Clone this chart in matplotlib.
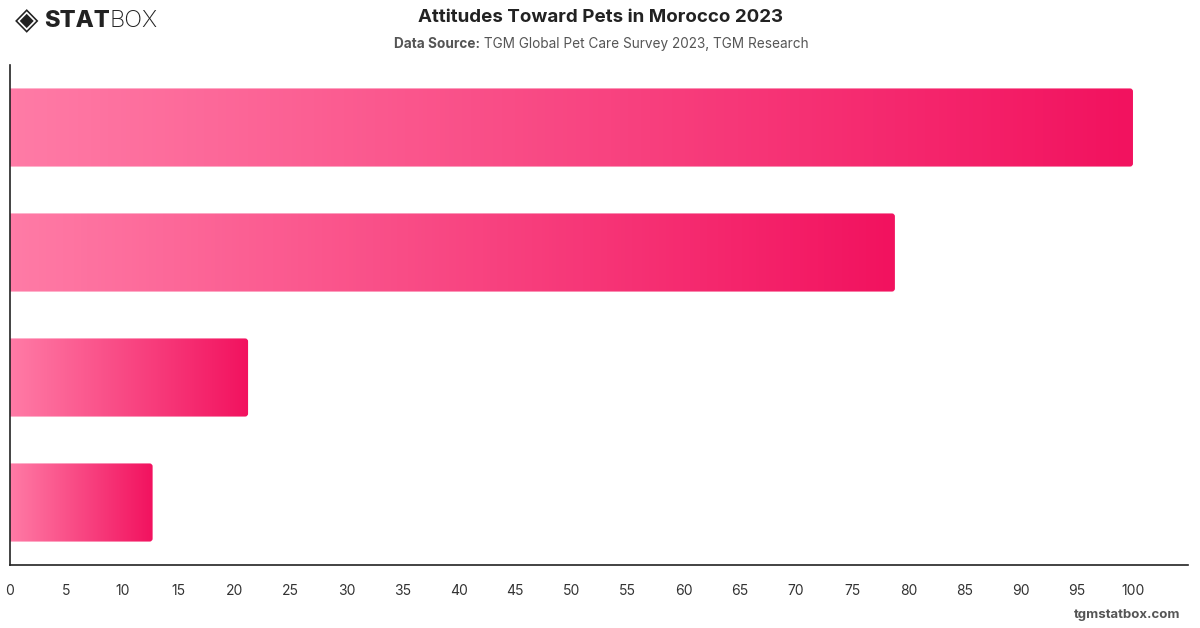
#libraries
import numpy as np
import matplotlib.pyplot as plt
from matplotlib.path import Path
from matplotlib.patches import PathPatch
from matplotlib.colors import LinearSegmentedColormap

#data
categories = ['A', 'B', 'C', 'D']
values = [100.0, 78.8, 21.2, 12.7]
tick_values = list(range(0, 105, 5))

#style
TITLE = 'Attitudes Toward Pets in Morocco 2023'
SOURCE_LABEL = 'Data Source:'
SOURCE_TEXT = ' TGM Global Pet Care Survey 2023, TGM Research'
FOOTER = 'tgmstatbox.com'
COLOR_LEFT = '#ff7ba6'
COLOR_RIGHT = '#f2125f'
BAR_HEIGHT = 0.625
XMAX = 104.9

plt.rcParams['font.family'] = ['Inter', 'DejaVu Sans']

fig = plt.figure(figsize=(12, 6.28), dpi=100)
ax = fig.add_axes([10 / 1200, 1 - 565 / 628, 1178 / 1200, 500 / 628])
ax.set_xlim(0, XMAX)
ax.set_ylim(len(categories) - 0.5, -0.5)

cmap = LinearSegmentedColormap.from_list('pinks', [COLOR_LEFT, COLOR_RIGHT])
grad = np.linspace(0, 1, 256).reshape(1, -1)

#corner radius in data units (about 3 px)
rx = 3 / (1178 / XMAX)
ry = 3 / (500 / len(categories))


def bar_path(x1, y0, y1):
    verts = [(0, y0), (x1 - rx, y0), (x1, y0), (x1, y0 + ry),
             (x1, y1 - ry), (x1, y1), (x1 - rx, y1), (0, y1), (0, y0)]
    codes = [Path.MOVETO, Path.LINETO, Path.CURVE3, Path.CURVE3,
             Path.LINETO, Path.CURVE3, Path.CURVE3, Path.LINETO, Path.CLOSEPOLY]
    return Path(verts, codes)


for i, v in enumerate(values):
    y0 = i - BAR_HEIGHT / 2
    y1 = i + BAR_HEIGHT / 2
    patch = PathPatch(bar_path(v, y0, y1), facecolor='none', edgecolor='none')
    ax.add_patch(patch)
    im = ax.imshow(grad, cmap=cmap, aspect='auto', extent=(0, v, y1, y0),
                   interpolation='bicubic', zorder=2)
    im.set_clip_path(patch)

ax.set_xlim(0, XMAX)
ax.set_ylim(len(categories) - 0.5, -0.5)

#axes styling
for s in ['top', 'right']:
    ax.spines[s].set_visible(False)
ax.spines['left'].set_color('#222222')
ax.spines['bottom'].set_color('#222222')
ax.spines['left'].set_linewidth(1.2)
ax.spines['bottom'].set_linewidth(1.2)
ax.set_yticks([])
ax.set_xticks(tick_values)
ax.set_xticklabels([str(t) for t in tick_values])
ax.tick_params(axis='x', length=0, pad=14, labelsize=10, labelcolor='#333333')

#titles
fig.text(0.5, 1 - 17 / 628, TITLE, ha='center', va='center',
         fontsize=13.5, fontweight='bold', color='#222222')
t1 = fig.text(0.5, 1 - 44 / 628, SOURCE_LABEL + SOURCE_TEXT, ha='center', va='center',
              fontsize=9.8, color='#555555')
fig.canvas.draw()
bb = t1.get_window_extent()
t1.set_visible(False)
x_left = bb.x0 / 1200
lab = fig.text(x_left, 1 - 44 / 628, SOURCE_LABEL, ha='left', va='center',
               fontsize=9.8, fontweight='bold', color='#555555')
fig.canvas.draw()
lb = lab.get_window_extent()
fig.text(lb.x1 / 1200, 1 - 44 / 628, SOURCE_TEXT, ha='left', va='center',
         fontsize=9.8, color='#555555')

#logo
fig.text(27 / 1200, 1 - 21 / 628, '\u25C8', ha='center', va='center',
         fontsize=22, color='#222222', family=['DejaVu Sans'])
st = fig.text(44 / 1200, 1 - 21 / 628, 'STAT', ha='left', va='center',
              fontsize=17, fontweight='heavy', color='#222222')
fig.canvas.draw()
sb = st.get_window_extent()
fig.text(sb.x1 / 1200, 1 - 21 / 628, 'BOX', ha='left', va='center',
         fontsize=17, fontweight='light', color='#222222')

#footer
fig.text(1180 / 1200, 1 - 615 / 628, FOOTER, ha='right', va='center',
         fontsize=9.5, fontweight='bold', color='#555555')

fig.savefig('out.png', dpi=100)
